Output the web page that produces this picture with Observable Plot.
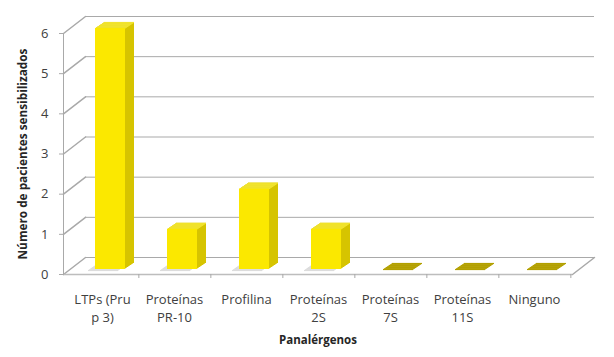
<!DOCTYPE html>
<html>
<head>
<meta charset="utf-8">
<script src="https://cdn.jsdelivr.net/npm/d3@7"></script>
<script src="https://cdn.jsdelivr.net/npm/@observablehq/plot@0.6"></script>
<style>
  html, body { margin: 0; padding: 0; background: #ffffff; }
  #chart svg { display: block; }
</style>
</head>
<body>
<div id="chart"></div>
<script>
// ---- data ----
const categories = ["LTPs (Pru\np 3)", "Proteínas\nPR-10", "Profilina", "Proteínas\n2S", "Proteínas\n7S", "Proteínas\n11S", "Ninguno"];
const values = [6, 1, 2, 1, 0, 0, 0];
const yTicks = [0, 1, 2, 3, 4, 5, 6];
const xTitle = "Panalérgenos";
const yTitle = "Número de pacientes sensibilizados";

const data = categories.map((c, i) => ({cat: c, value: values[i]}));

// ---- styling ----
const W = 614, H = 357;
const mL = 63, mR = 42, mT = 33, mB = 83;
const step = (W - mL - mR) / categories.length;
const wallDx = 22, wallDy = -17;          // 3-D depth of the wall/floor
const barDx = 8, barDy = -5;              // bar front face position inside the floor depth
const sideSteps = 9, sideDy = -6;         // bar depth
const FRONT = "#fbe800", SIDE = "#d6c400", TOP = "#f1e32e", OLIVE = "#b2a000";
const GRID = "#a9a9a9";
const lineShape = {draw(context, l) { context.moveTo(0, 0); context.lineTo(0, -l); }};
const slantLen = Math.hypot(wallDx, wallDy);
const slantRot = Math.atan2(wallDx, -wallDy) * 180 / Math.PI;

const sideMarks = [], topMarks = [];
for (let k = sideSteps; k >= 1; --k) {
  sideMarks.push(Plot.barY(data, {x: "cat", y: "value", dx: barDx + k, dy: barDy + k * sideDy / sideSteps, fill: SIDE}));
}
for (let k = 0; k <= sideSteps; ++k) {
  topMarks.push(Plot.tickY(data, {filter: d => d.value > 0, x: "cat", y: "value", dx: barDx + k, dy: barDy + k * sideDy / sideSteps, stroke: TOP, strokeWidth: 1.2}));
  topMarks.push(Plot.tickY(data, {filter: d => d.value === 0, x: "cat", y: "value", dx: barDx + k, dy: barDy + k * sideDy / sideSteps, stroke: OLIVE, strokeWidth: 1.2}));
}
// soft floor shadows behind the bars
const shadowMarks = [];
for (let k = 0; k <= 8; ++k) {
  shadowMarks.push(Plot.tickY(data, {filter: d => d.value > 0, x: "cat", y: () => 0, dx: barDx - 7 + k, dy: barDy + 1 - k * 0.7, stroke: "#dcdcdc", strokeWidth: 1.2}));
}

const chart = Plot.plot({
  width: W,
  height: H,
  marginLeft: mL,
  marginRight: mR,
  marginTop: mT,
  marginBottom: mB,
  style: {fontFamily: "'Open Sans', sans-serif", fontSize: "13px", color: "#404040", background: "#ffffff"},
  x: {type: "band", domain: categories, paddingInner: 0.587, paddingOuter: 0.2935, label: null},
  y: {domain: [0, 6], label: null},
  marks: [
    // back wall gridlines
    Plot.ruleY(yTicks, {dx: wallDx, dy: wallDy, stroke: GRID}),
    // side wall slants
    Plot.vector(yTicks, {y: d => d, frameAnchor: "left", length: slantLen, rotate: slantRot, anchor: "start", stroke: GRID, shape: lineShape}),
    // floor right edge
    Plot.vector([0], {y: d => d, frameAnchor: "right", length: slantLen, rotate: slantRot, anchor: "start", stroke: GRID, shape: lineShape}),
    ...shadowMarks,
    // floor front edge
    Plot.ruleY([0], {stroke: "#bdbdbd", strokeWidth: 1.5}),
    // front axis line
    Plot.frame({anchor: "left", stroke: GRID}),
    // category separators
    Plot.ruleX(categories, {x: d => d, dx: step / 2, y1: 0, y2: -0.1, stroke: GRID}),
    ...sideMarks,
    ...topMarks,
    Plot.barY(data, {x: "cat", y: "value", dx: barDx, dy: barDy, fill: FRONT}),
    Plot.axisY({ticks: yTicks, tickFormat: d3.format("d"), tickSize: 4, tickPadding: 11, stroke: GRID, fontSize: 13, label: null}),
    Plot.axisX({tickSize: 0, tickPadding: 17, lineHeight: 1.35, fontSize: 13, label: null}),
    Plot.text([xTitle], {frameAnchor: "bottom", dy: 69, fontWeight: "bold", fontSize: 11.5, fill: "#262626"}),
    Plot.text([yTitle], {frameAnchor: "left", dx: -40, rotate: -90, textAnchor: "middle", fontWeight: "bold", fontSize: 11.8, fill: "#262626"})
  ]
});
document.getElementById("chart").appendChild(chart);
</script>
</body>
</html>
